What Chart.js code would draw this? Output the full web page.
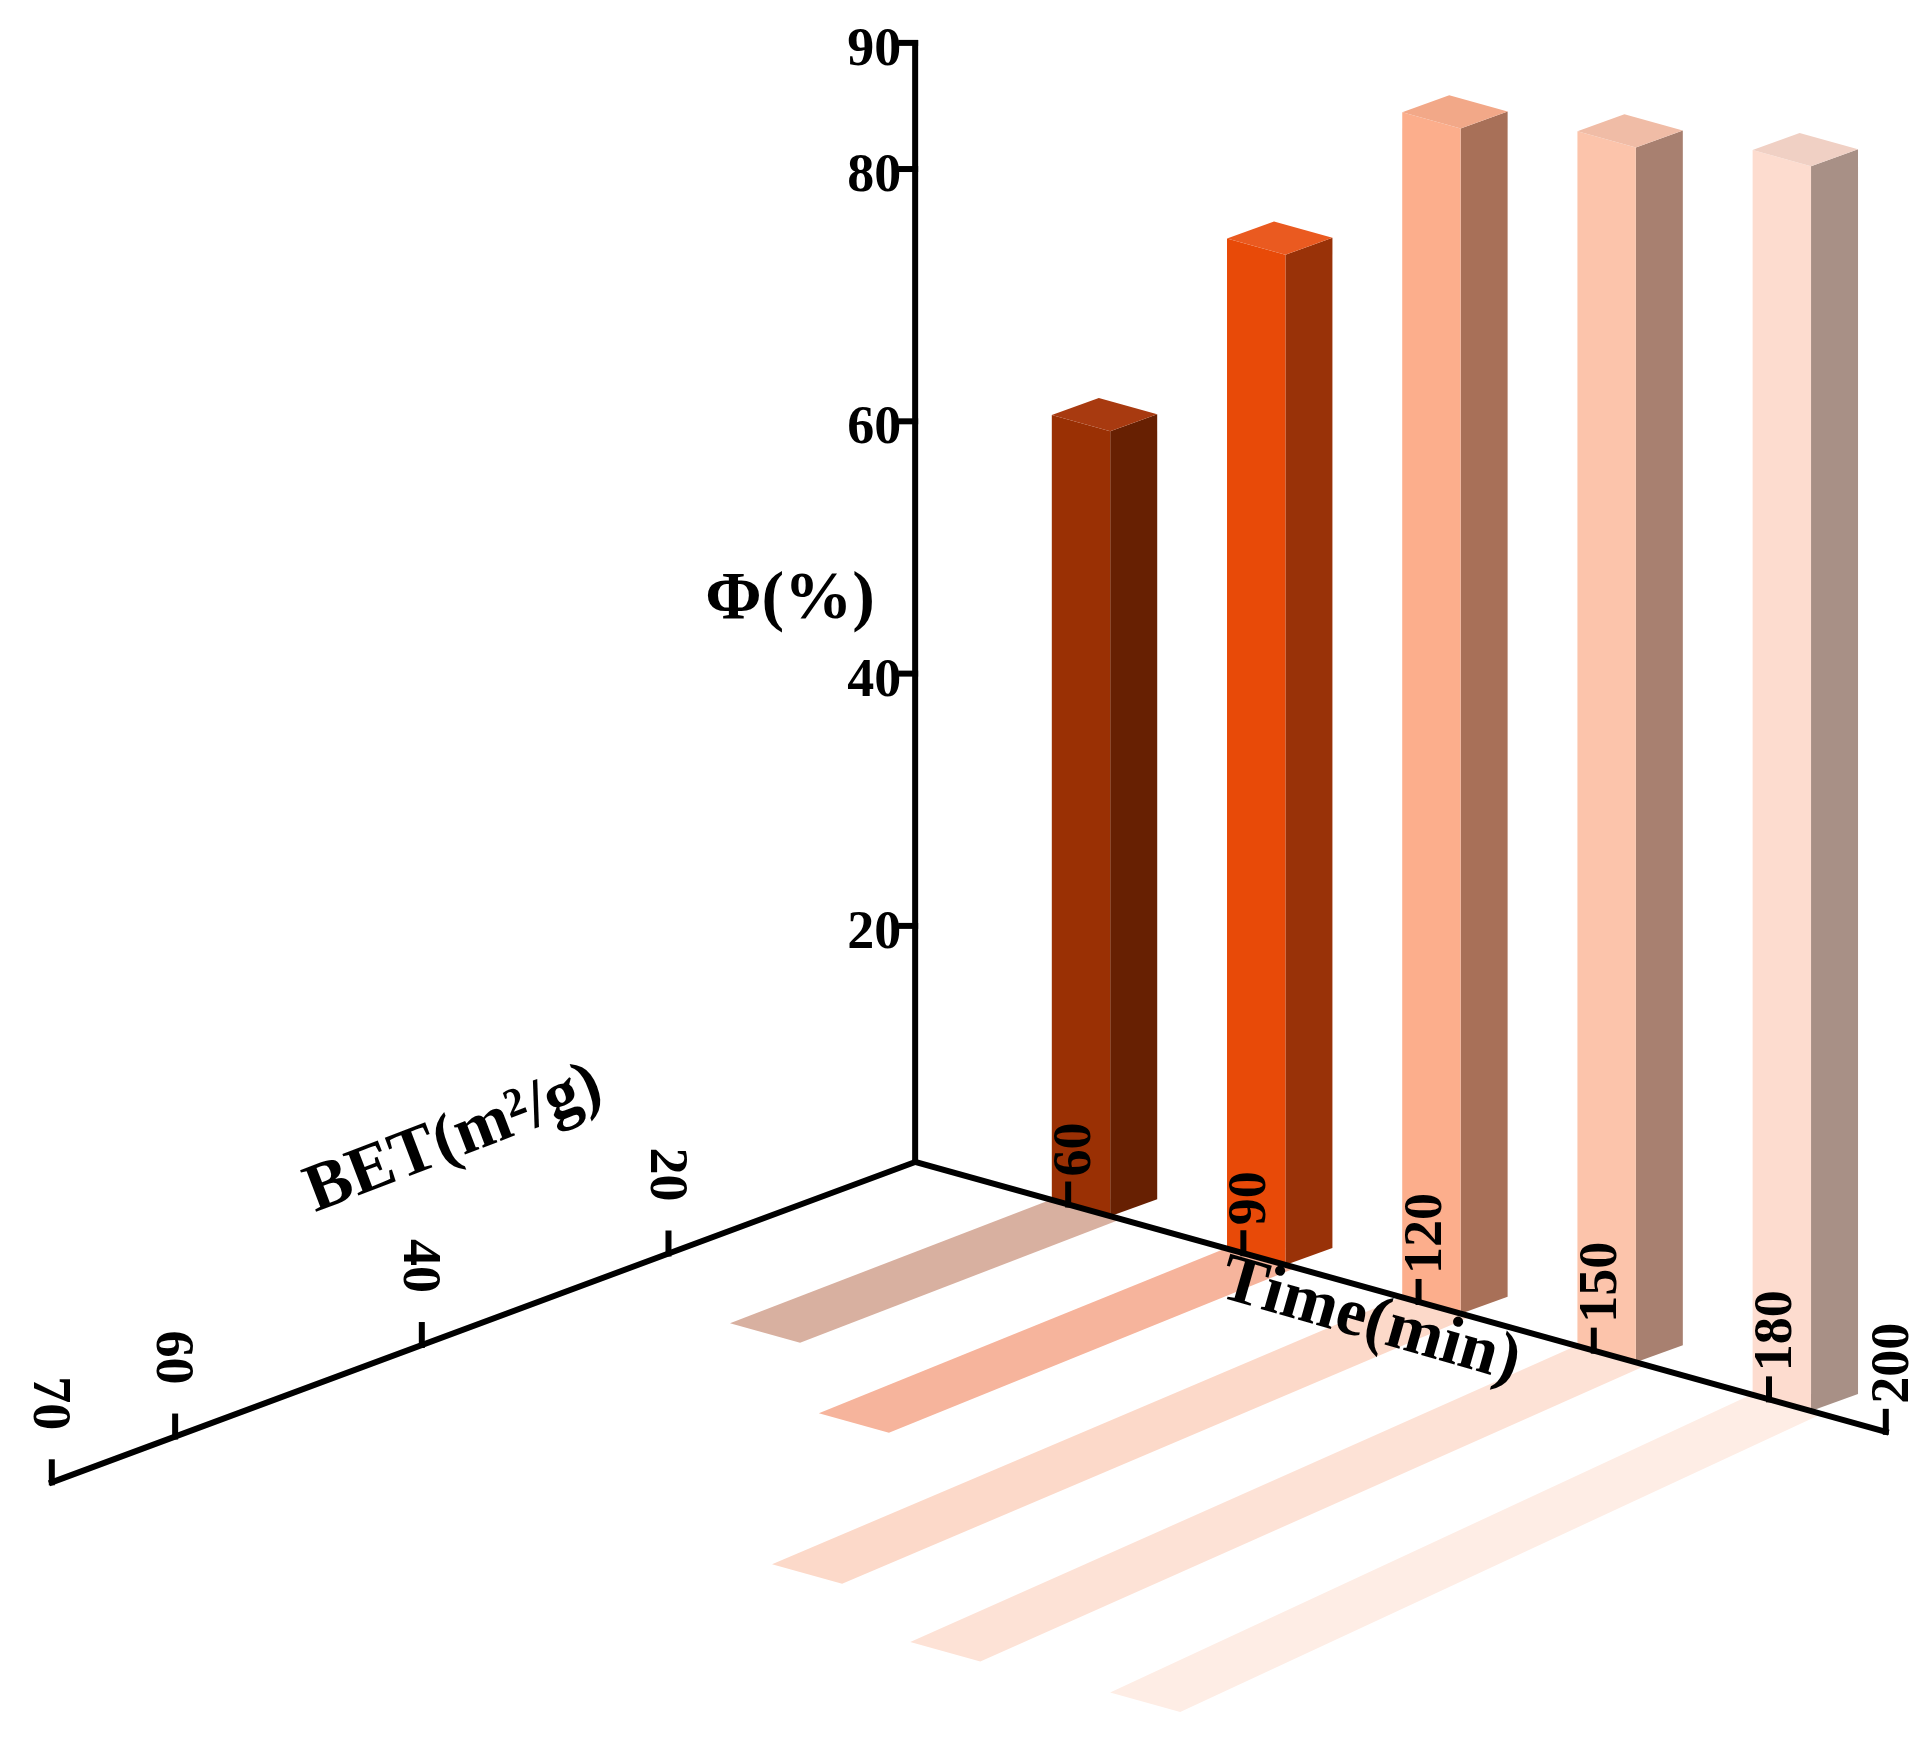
<!DOCTYPE html>
<html><head><meta charset="utf-8">
<script src="https://cdn.jsdelivr.net/npm/chart.js@4"></script>
<style>html,body{margin:0;padding:0;background:#fff}canvas{display:block}</style>
</head><body>
<canvas id="c" width="1929" height="1737"></canvas>
<script>
const times=[60,90,120,150,180];
const phiValues=[60.5,74.5,84.5,83,81.5];
const betValues=[26,33,51,54,52];
const phiTicks=[20,40,60,80,90];
const timeTicks=[60,90,120,150,180,200];
const betTicks=[20,40,60,70];
const frontColors=['#9a3004','#e84a08','#fcae8c','#fcc4ab','#fddccf'];
const sideColors=['#672002','#993208','#a87058','#a88070','#a89086'];
const topColors=['#a83a10','#ea5a20','#f2a888','#f0bca6','#f0d0c4'];
const stripColors=['#d8b0a0','#f6b49c','#fcd9c9','#fde2d6','#feede5'];
const FONT='"Liberation Serif", "DejaVu Serif", serif';

const draw3d={id:'draw3d',afterDraw(chart){
  const ctx=chart.ctx,T=chart.scales.time,B=chart.scales.bet,Y=chart.scales.y;
  const ox=T.getPixelForValue(33.8), oy=1162;
  const ft=t=>{const x=T.getPixelForValue(t);return {x,y:oy+(x-ox)*0.278};};
  const bo=(b,s)=>{const dx=B.getPixelForValue(b)-ox;return {x:dx,y:-dx*s};};
  const poly=(pts,col)=>{ctx.beginPath();ctx.moveTo(pts[0].x,pts[0].y);for(const p of pts.slice(1))ctx.lineTo(p.x,p.y);ctx.closePath();ctx.fillStyle=col;ctx.fill();};
  const add=(a,b)=>({x:a.x+b.x,y:a.y+b.y});
  // strips
  times.forEach((t,i)=>{
    const A=ft(t-3),C=ft(t+9);
    const s=0.37+(A.x-ox)*0.000113;
    const o=bo(betValues[i],s);
    poly([A,C,add(C,o),add(A,o)],stripColors[i]);
  });
  // bars
  const d={x:47,y:-17};
  times.forEach((t,i)=>{
    const FL=ft(t-2.8),FR=ft(t+7.2);
    const h=FL.y-Y.getPixelForValue(phiValues[i]);
    const up=p=>({x:p.x,y:p.y-h});
    poly([FR,add(FR,d),up(add(FR,d)),up(FR)],sideColors[i]);
    poly([FL,FR,up(FR),up(FL)],frontColors[i]);
    poly([up(FL),up(FR),up(add(FR,d)),up(add(FL,d))],topColors[i]);
  });
  // axes
  ctx.strokeStyle='#000';ctx.lineWidth=6;ctx.lineCap='square';
  const line=(a,b)=>{ctx.beginPath();ctx.moveTo(a.x,a.y);ctx.lineTo(b.x,b.y);ctx.stroke();};
  line({x:ox,y:oy},{x:ox,y:Y.getPixelForValue(90)});
  const tEnd=ft(200);line({x:ox,y:oy},tEnd);
  const bEx=B.getPixelForValue(70);line({x:ox,y:oy},{x:bEx,y:oy+(ox-bEx)*0.371});
  ctx.fillStyle='#000';
  ctx.font='bold 54px '+FONT;ctx.textAlign='right';ctx.textBaseline='middle';
  phiTicks.forEach(v=>{const y=Y.getPixelForValue(v);line({x:ox,y},{x:ox-14,y});ctx.fillText(String(v),ox-14,y+8);});
  timeTicks.forEach(v=>{const p=ft(v);line(p,{x:p.x,y:p.y-20});
    ctx.save();ctx.translate(p.x+8,p.y-28);ctx.rotate(-Math.PI/2);ctx.textAlign='left';ctx.fillText(String(v),0,0);ctx.restore();});
  betTicks.forEach(v=>{const x=B.getPixelForValue(v),y=oy+(ox-x)*0.371;line({x,y},{x,y:y-20});
    ctx.save();ctx.translate(x-4,y-52);ctx.rotate(Math.PI/2);ctx.textAlign='right';ctx.fillText(String(v),0,0);ctx.restore();});
  ctx.font='bold 68px '+FONT;ctx.textAlign='center';
  ctx.fillText('Φ(%)',790,600);
  ctx.save();ctx.translate(454,1140);ctx.rotate(-21*Math.PI/180);ctx.fillText('BET(m²/g)',0,0);ctx.restore();
  ctx.save();ctx.translate(1370,1322);ctx.rotate(16*Math.PI/180);ctx.fillText('Time(min)',0,0);ctx.restore();
}};

new Chart(document.getElementById('c'),{
  type:'scatter',
  data:{datasets:[{data:times.map((t,i)=>({x:t,y:phiValues[i]})),xAxisID:'time',yAxisID:'y',pointRadius:0}]},
  options:{responsive:false,animation:false,devicePixelRatio:1,layout:{padding:0},
    plugins:{legend:{display:false},tooltip:{enabled:false}},
    scales:{
      time:{type:'linear',axis:'x',min:-122.9,max:207.4,display:false},
      bet:{type:'linear',axis:'x',reverse:true,min:-82.2,max:74.2,display:false},
      y:{type:'linear',min:-44.3,max:93.4,display:false}
    }},
  plugins:[draw3d]
});
</script>
</body></html>
